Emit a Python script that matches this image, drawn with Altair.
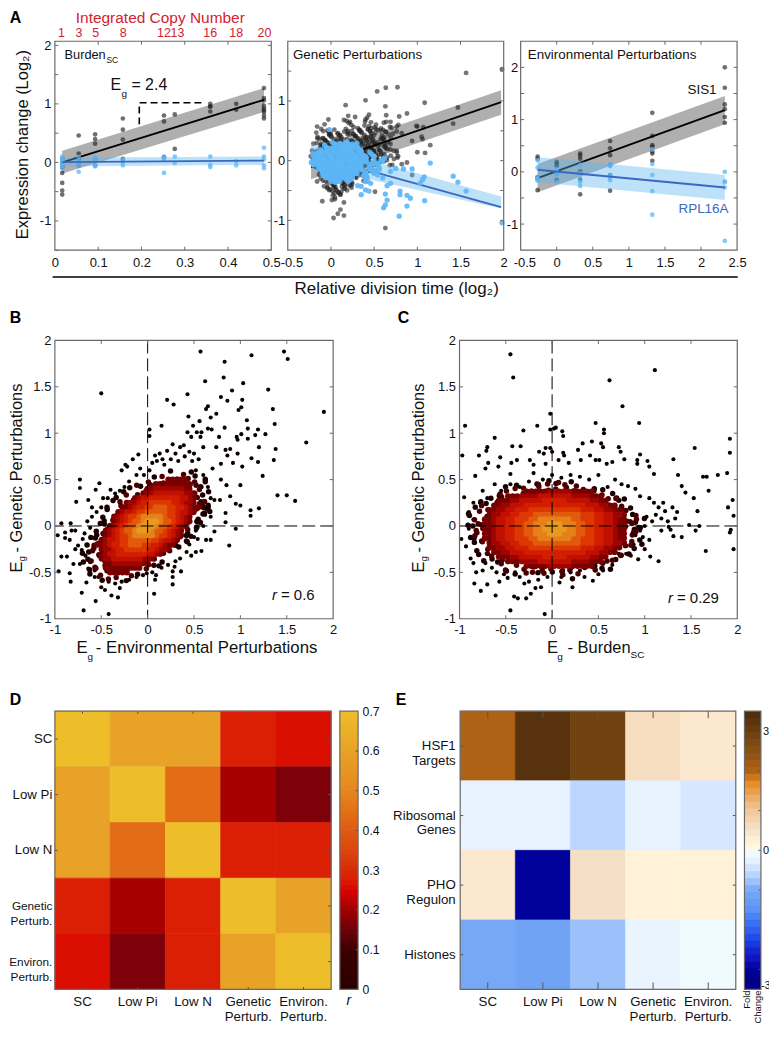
import altair as alt
import pandas as pd

FONT = "Liberation Sans"
FRAME = "#6a6a6a"
RED = "#d2222d"
BLUE_LINE = "#3a68c0"
BLUE_PT = "#5cb6f6"
BLUE_BAND = "#58b4ee"
BLACK_PT = "#222222"
GRAY_BAND = "#6e6e6e"

# ---------- Panel A, Burden ----------
A1_BLACK_X = [.017]*7 + [.055]*4 + [.093]*5 + [.157]*4 + [.252]*3 + [.277]*2 + [.359]*4 + [.419]*2 + [.483]*9
A1_BLACK_Y = [-.01,-.18,-.35,-.48,-.55,.06,-.08, .46,.15,.06,-.05, .48,.4,.32,.06,-.05, .75,.56,.39,.06,
              .80,.70,.09, .82,.23, 1.0,.96,.95,.87, 1.0,.90, 1.27,1.10,1.06,.97,.92,.89,.86,.80,.75]
A1_BLUE_X = [.017]*6 + [.055]*4 + [.093]*4 + [.157]*3 + [.252]*3 + [.277]*2 + [.359]*3 + [.419]*2 + [.483]*5
A1_BLUE_Y = [.1,.06,.03,-.02,-.06,-.11, .09,.02,-.05,-.16, .1,.06,-.05,-.07, .05,.0,-.05,
             .1,.06,-.18, .1,-.01, .1,-.04,-.08, .02,-.05, .25,.1,.05,-.05,-.1]
A1_COPY_X = [.0155,.0554,.0946,.158,.252,.283,.359,.419,.484]
A1_COPY_LABELS = ["1","3","5","8","12","13","16","18","20"]
A1_FIT_X = [.017,.483]
A1_BLACK_FIT = [.0,1.07]
A1_BLACK_LO = [-.19,.86]
A1_BLACK_HI = [.2,1.27]
A1_BLUE_FIT = [.005,.03]
A1_BLUE_LO = [-.07,-.04]
A1_BLUE_HI = [.08,.1]
A1_BRACKET_X = [.195,.195,.346]
A1_BRACKET_Y = [.65,1.02,1.02]

# ---------- Panel A, Genetic ----------
A2_BLACK_OUT = [(1.98,1.53),(1.565,1.47),(.635,1.22),(.77,1.23),(.535,1.16),(.40,1.01),(.17,.93),(.63,.91),(1.085,.97),
 (1.47,.89),(1.415,.62),(.88,.79),(.79,.74),(1.15,.26),(-.03,.69),(-.16,.57),(-.17,.47),(.2,.75),(.28,.73),(.15,.68),
 (.22,.65),(.44,.77),(.42,.72),(.40,.69),(.64,.76),(.64,.65),(.69,.65),(.58,.54),(.52,.53),(.76,.57),(.76,.49),(.82,.46),
 (.99,.58),(1.0,.57),(1.07,.56),(.94,.33),(1.05,.4),(1.06,.36),(1.0,.14),(1.09,.13),(.77,.05),(.65,.05),(.88,-.03),
 (.82,-.06),(.94,-.24),(.71,-.07),(.51,-.52),(.63,-1.13),(-.1,-.68),(.03,-.96),(.08,-.89),(.11,-.82),(.15,-.92),(.15,-.7),
 (.01,-.66),(-.08,-.43),(-.16,-.35),(.12,-.52),(.23,-.41)]
A2_BLUE_OUT = [(1.98,-1.04),(1.565,-.51),(1.415,-.26),(1.47,-.36),(1.15,-.04),(1.085,-.67),(1.08,-.27),(1.06,-.32),(1.03,-.38),
 (.94,-.14),(.84,-.14),(.75,-.13),(.69,-.18),(.79,-.93),(.88,-.76),(.63,-.74),(.61,-.79),(.65,-.66),(.63,-.56),(.8,-.51),
 (.8,-.57),(.88,-.58),(.92,-.63),(.69,-.38),(.65,-.42),(.35,-.57),(.4,-.49),(.44,-.51),(.35,-.43),(.31,-.42),(-.02,.52),
 (.62,.04),(.56,-.13),(.5,-.18),(.46,-.07),(.54,-.24),(.6,-.29),(.42,-.29),(.46,-.38)]
# occupied cells of the dense clouds, read row by row
A2_BLACK_ROWS = {
 .63:"........#...#.#....#", .56:"...#.....##.###.#.#.", .49:"..#.##.#.###.##.#.#.", .42:"..#####.#######.#.#.",
 .35:".##################.", .28:".#################..", .21:"##################.#", .14:"#################.##",
 .07:"################.#.#", .0:"###############.#.#.", -.07:"##############..##..", -.14:".############.#.....",
 -.21:".###########.#......", -.28:"..#########.........", -.35:"...#######.#........", -.42:"...######...........",
 -.49:"....####............", -.56:"....###.............", -.63:".....#.............."}
A2_BLACK_ROWS2 = {
 .595:"........#..#.#..#...", .525:"..#.#.#.###.##.#.#..", .455:"..####.#######.#.#..", .385:".################...",
 .315:"################.#..", .245:"#################...", .175:"#################.#.", .105:"################.#..",
 .035:"###############.#...", -.035:"##############.#....", -.105:".############.#.....", -.175:".###########.#......",
 -.245:"..#########.........", -.315:"..########..........", -.385:"...#######..........", -.455:"...######...........",
 -.525:"....####............", -.595:"....##.............."}
A2_BLUE_ROWS = {
 .28:".....#####.........", .21:"...########........", .14:".###########.......", .07:"#############.#....",
 .0:"#############.#.#..", -.07:"############.#.#...", -.14:".###########.#.#...", -.21:"..#########.#.#....",
 -.28:"...#######..#......", -.35:"....###.#...#......"}
A2_BLUE_ROWS2 = {
 .245:"....#######........", .175:"..##########.......", .105:"############.#.....", .035:"#############.#....",
 -.035:"############.#.....", -.105:"###########.#......", -.175:".#########.#.......", -.245:"..#######..#.......",
 -.315:"...#####..........."}
# small offsets that break the reading grid of the dense clouds
SCATTER_DX = [.012,-.028,.031,-.009,.022,-.033,.005,.027,-.018,.036,-.024,.014,-.005,.029,-.037,.018,-.013]
SCATTER_DY = [-.03,.018,.042,-.012,-.045,.027,.006,-.036,.033,-.021,.048,-.006,.024,-.039,.012,-.027,.039,-.018,.003]
A2_FIT_X = [-.23,1.97]
A2_BLACK_FIT = [-.11,.98]
A2_BLACK_LO = [-.31,.77]
A2_BLACK_HI = [.09,1.18]
A2_BLUE_FIT = [.1,-.78]
A2_BLUE_LO = [-.1,-.8]
A2_BLUE_HI = [.28,-.6]

# ---------- Panel A, Environmental ----------
A3_BLACK_X = [-.265]*5 + [0]*5 + [.325]*6 + [.74]*6 + [1.325]*7 + [2.33]*6
A3_BLACK_Y = [.29,.25,-.1,-.13,-.35, .19,.16,.11,-.03,-.16, .35,.31,.25,.01,-.15,-.43, .59,.45,.32,.13,-.06,-.36,
              1.13,.69,.51,.48,.39,.35,.21, 2.0,1.61,1.29,1.2,1.05,.94]
A3_BLUE_X = [-.265]*5 + [0]*4 + [.325]*5 + [.74]*5 + [1.325]*5 + [2.33]*5
A3_BLUE_Y = [.22,.08,-.1,-.14,-.17, .05,0,-.05,-.19, .13,-.03,-.06,-.19,-.27, .15,.11,-.06,-.11,-.16,
             .43,.15,-.06,-.37,-.82, 0,-.18,-.2,-.3,-1.32]
A3_FIT_X = [-.265,2.33]
A3_BLACK_FIT = [-.12,1.18]
A3_BLACK_LO = [-.39,.91]
A3_BLACK_HI = [.15,1.45]
A3_BLUE_FIT = [.04,-.3]
A3_BLUE_LO = [-.2,-.54]
A3_BLUE_HI = [.28,-.06]

# ---------- Panels B and C ----------
DENSITY_COLORS = ["#1c0000","#4a0000","#7a0000","#a00400","#c21000","#d21e00","#dc3800","#e25a0c","#e6801a","#e89a20"]
B_OUT = [(.57,1.88),(1.12,1.84),(1.47,1.88),(1.51,1.80),(.83,1.77),(.82,1.60),(.62,1.56),(1.03,1.54),(-.50,1.43),(.43,1.42),
 (.21,1.36),(.28,1.31),(.91,1.46),(1.30,1.47),(.79,1.39),(.86,1.35),(1.02,1.36),(.98,1.25),(1.01,1.28),(1.35,1.26),(1.90,1.23),
 (.65,1.29),(.63,1.26),(.74,1.21),(.68,1.17),(.44,1.18),(.56,1.13),(1.07,1.14),(1.37,1.10),(.15,1.08),(.49,1.08),(.02,1.04),
 (.02,.97),(.83,1.06),(1.08,1.05),(1.19,1.04),(.65,1.05),(.69,1.04),(.43,1.01),(.53,1.01),(.58,1.01),(1.01,.99),(1.27,.99),
 (1.16,.98),(.47,.96),(.57,.96),(.77,.96),(.96,.96),(.97,.93),(1.08,.94),(1.71,.9),(1.2,.85),(1.38,.83),(.84,.82),(.89,.83),
 (.74,.85),(.6,.85),(.97,.78),(.86,.76),(1.12,.73),(1.36,.71),(1.19,.69),(.92,.68),(1.02,.64),(.79,.67),(.70,.62),(1.24,.54),
 (.79,.5),(1.0,.44),(.85,.44),(1.40,.33),(1.5,.33),(1.59,.27),(1.2,.19),(1.11,.17),(1.11,.11),(.95,.24),(1.0,.22),(.89,.32),
 (.84,.14),(.95,-.03),(.88,-.21),(.84,.04),(.72,-.06),(.68,-.15),(.63,-.15),(.54,-.14),(.58,-.27),(.52,-.28),(.47,-.32),
 (.36,-.49),(.29,-.44),(.27,-.49),(.27,-.55),(.27,-.63),(.09,-.53),(.08,-.58),(.07,-.73),(-.01,-.51),(-.32,-.77),(-.39,-.75),
 (-.42,-.95),(-.56,-.81),(-.69,-.91),(-.71,-.72),(-.66,-.61),(-.83,-.60),(-.96,-.49),(-.84,-.51),(-.93,-.33),(-.87,-.33),
 (-.97,-.1),(-.93,.03),(-.83,.03),(-.89,-.07),(-.89,-.13),(-.84,-.15),(-.82,-.05),(-.78,-.05),(-.73,.5),(-.73,.41),(-.77,.26),
 (-.64,.28),(-.52,.46),(-.56,.39),(-.40,.39),(-.28,.6),(-.24,.66),(-.22,.64),(-.16,.72),(-.1,.77),(.08,.76),(.13,.78),(.21,.81),
 (.27,.88),(.35,.85),(.39,.87),(-.75,-.21),(-.71,-.26),(-.67,-.32),(-.62,-.39),(-.57,-.48),(-.53,-.55),(-.5,-.66),(-.46,-.69),
 (-.8,-.41),(-.73,-.41),(-.64,-.46),(-.57,-.55),(-.78,-.25),(-.7,-.14),(-.68,-.08),(-.62,-.02),(-.65,.05),(-.6,.1),(-.55,.15),
 (-.6,.2),(-.5,.2),(-.48,.3),(-.43,.3),(-.35,.35),(-.3,.38),(-.25,.42),(-.2,.48),(-.12,.55),(-.08,.62),(-.04,.55),(.02,.6),
 (.05,.68),(.1,.7),(.16,.72),(.18,.66),(.25,.72),(.3,.78),(.33,.7),(.4,.75),(.45,.8),(.5,.78),(.48,.7),(.55,.72),(.52,.6),
 (.6,.55),(.62,.5),(.58,.42),(.65,.42),(.68,.3),(.72,.28),(.78,.28),(.66,.2),(.6,.22),(.62,.12),(.68,.1),(.55,.05),(.6,.0),
 (.52,-.05),(.5,-.12),(.45,-.2),(.42,-.28),(.35,-.35),(.3,-.38),(.22,-.42),(.15,-.45),(.05,-.5),(-.05,-.53),(-.12,-.55),
 (-.2,-.58),(-.28,-.6),(-.35,-.62),(-.42,-.6),(-.3,-.67),(-.38,-.5)]
B_ROWS = {
  .55:".....................0.1.1.0.....",
  .50:".................0.1122222110.0..",
  .45:"..............0.112222222221.0...",
  .40:"............0.1122333333322110...",
  .35:"...........0.1123344444443321.0..",
  .30:".........0.11234455555554432110..",
  .25:"........0.123345566666554332100..",
  .20:".......0.12234556677766554322100.",
  .15:"......0.12344566777776654432100..",
  .10:".....0.12345667888887665432.00...",
  .05:".....0012345677899987765432.0....",
  .00:"....0.12345677899987765432100....",
 -.05:"...0.12345677899987765432100.....",
 -.10:"...0012345667888887665432.0......",
 -.15:"..0.12344566777776654432100......",
 -.20:".0.12234556677766554322.00.......",
 -.25:"..0.123345566666554332.0.........",
 -.30:".0.112344555555544321.0..........",
 -.35:".0.1123344444443321.0............",
 -.40:"..0.11223333333221.0.............",
 -.45:"..0.112222222221.0...............",
 -.50:"...0.11222221.0..................",
 -.55:".....0.1.1.0.....................",
}
C_OUT = [(-.45,1.85),(-.42,1.6),(1.11,1.68),(.62,1.57),(.76,1.29),(-.02,1.21),(.94,1.11),(.47,1.11),(.56,1.04),(.56,1.0),(-.94,1.08),
 (-.31,1.03),(-.16,1.08),(-.02,1.04),(.02,1.05),(.04,1.06),(.11,1.02),(.12,.97),(-.62,.95),(1.92,.94),(-.43,.86),(-.34,.86),(1.54,.84),
 (-.97,.76),(-.79,.76),(-.7,.85),(-.71,.81),(-.56,.74),(1.92,.79),(-.07,.84),(-.02,.84),(0,.8),(-.14,.8),(-.09,.78),(.12,.79),(.13,.76),
 (.43,.91),(.33,.89),(.28,.82),(.53,.89),(.55,.85),(.72,.85),(.74,.8),(.95,.77),(.41,.76),(.31,.71),(.47,.71),(.51,.71),(.59,.67),
 (.65,.69),(.92,.71),(.92,.67),(.78,.72),(1.03,.7),(1.31,.72),(1.05,.64),(-.69,.68),(-.72,.62),(-.58,.64),(-.44,.68),(-.38,.71),(-.24,.71),
 (-.2,.66),(-.07,.67),(.07,.71),(.18,.68),(-.83,.54),(-.45,.56),(-.2,.57),(1.1,.56),(1.36,.55),(1.67,.53),(1.63,.53),(1.79,.55),(1.89,.57),
 (1.69,.38),(1.95,.28),(1.9,.2),(1.53,.3),(1.57,.16),(1.44,.36),(1.4,.43),(1.96,.11),(1.48,.01),(1.59,0),(1.55,-.05),(1.93,-.04),(1.92,-.07),
 (1.96,-.25),(1.66,-.27),(1.4,-.12),(1.31,-.11),(1.26,-.01),(1.15,-.38),(1.06,-.33),(.93,-.36),(.08,-.61),(.22,-.66),(-.45,-.91),(-.08,-.95),
 (-.23,-.73),(-.28,-.78),(-.37,-.78),(-.41,-.76),(-.61,-.75),(-.77,-.7),(-.84,-.62),(-.7,-.63),(-.57,-.6),(-.18,-.67),(-.12,-.66),(-.3,-.62),
 (.35,-.55),(.44,-.59),(-.98,-.14),(-.95,.31),(-.9,-.03),(-.85,.07),(-.93,-.22),(-.88,-.35),(-.85,-.4),(-.82,-.5),(-.75,-.48),(-.72,-.4),
 (-.65,-.45),(-.6,-.5),(-.52,-.52),(-.48,-.56),(-.4,-.5),(-.35,-.55),(-.25,-.6),(-.15,-.58),(-.05,-.55),(.1,-.55),(.2,-.5),(.3,-.48),(.45,-.45),
 (.5,-.52),(.55,-.48),(.65,-.42),(.72,-.3),(.8,-.3),(.88,-.2),(.9,-.1),(.95,-.05),(1.0,.0),(1.02,.1),(1.08,.05),(1.12,.12),(1.15,.2),(1.18,.08),
 (1.22,.16),(1.25,.05),(1.1,.25),(1.05,.3),(.95,.32),(.9,.4),(.82,.43),(.75,.45),(.68,.5),(.6,.42),(.5,.55),(.4,.5),(.3,.53),(.2,.55),(.1,.52),
 (0,.55),(-.1,.5),(-.25,.48),(-.35,.42),(-.45,.45),(-.55,.38),(-.62,.45),(-.7,.3),(-.78,.25),(-.85,.25),(-.9,.15),(-.75,.38),(1.2,.25),(1.3,.2),
 (1.35,.15),(1.28,-.04),(1.33,.08),(1.18,-.05),(1.05,-.15),(1.0,-.25),(.98,-.12),(.85,-.32)]
C_ROWS = {
  .47:".................0..0.0..0...............",
  .42:"...........0.0.1111111111111.0.0.........",
  .37:".........0.1.1122222333332222211.0.......",
  .32:".......0.112223333444444433332221.0.0....",
  .27:"......0.1222334444455555444443322110....",
  .22:".....0.12233444555555555555544433221.0..",
  .17:"....0.1223344555666666666665554433221.0.",
  .12:"...0.1123344556667777777777666554433211.0",
  .07:"...0.12234455666778888888776665544322110.",
  .02:"...0112234455667788899988877665544322110.",
 -.03:"...0112234455667788999998877665544322110.",
 -.08:"...0.12234455667788899988877665544322.10.",
 -.13:"...0112234455666778888888776665544322.10.",
 -.18:"...0.1123344556667777777777666554433211.0",
 -.23:"....0.1223344555666666666665554433221.0.",
 -.28:".....0.12233444555555555555544433221.0..",
 -.33:"......0.1222334444455555444443322.10....",
 -.38:".......0.112223333444444433332221.0.....",
 -.43:".........0.1.1122222333332222211.0.......",
 -.48:"...........0.0.1111111111111.0.0.........",
 -.53:".................0..0.0..0...............",
}

# ---------- Panels D and E ----------
D_NAMES = ["SC","Low Pi","Low N","Genetic|Perturb.","Environ.|Perturb."]
D_VALUES = [[.70,.60,.60,.28,.26],
            [.60,.70,.44,.205,.166],
            [.60,.44,.70,.28,.28],
            [.28,.205,.28,.70,.60],
            [.26,.166,.28,.60,.70]]
D_STOPS = [0,.1,.2,.25,.3,.4,.5,.6,.7]
D_COLORS = ["#000000","#3c0000","#a00000","#dc0000","#d92a0a","#df5a14","#e5871f","#e8a227","#edbe2a"]
E_ROWS = ["HSF1|Targets","Ribosomal|Genes","PHO|Regulon","Histones"]
E_COLS = D_NAMES
E_VALUES = [[2.0,3.3,2.9,.6,.4],
            [-.25,-.25,-.6,-.25,-.4],
            [.4,-3.0,.55,.2,.2],
            [-1.05,-1.15,-.8,-.22,-.1]]
E_STOPS = [-3.5,-3,-2.5,-2,-1.5,-1,-.6,-.3,0,.5,1,1.2,1.7,2,3,3.5]
E_COLORS = ["#000080","#00009a","#1525d8","#3060f0","#5b93f5","#7aaaf5","#bbd6ff","#e4efff","#ffffff","#f7e3ca","#f0c79a",
            "#edb87c","#e88a20","#ae6216","#6a3f10","#4a2a08"]
D_BAR_LEVELS = [i*.7/56 for i in range(56)]
E_BAR_LEVELS = [-3.5+i*7/40 for i in range(40)]

ONE = pd.DataFrame({"a":[1]})
MINUS_FIX = "replace(format(datum.value,'~g'),'\u2212','-')"


def text_at(origin, px, py, s, size=13, color="#111111", align="left", **kw):
    return alt.Chart(ONE).mark_text(text=s, fontSize=size, color=color, align=align, baseline="middle", font=FONT, **kw).encode(
        x=alt.value(px-origin[0]), y=alt.value(py-origin[1]))


def q_frame(w, h, xdom, ydom, xticks, yticks, xlabels, ylabels, tick=3.5, ypad=3, xpad=6):
    sx = alt.Scale(domain=xdom, nice=False, zero=False)
    sy = alt.Scale(domain=ydom, nice=False, zero=False)
    ax = alt.Axis(values=xlabels, title=None, tickSize=0, domain=False, grid=False, labelFontSize=13, labelFont=FONT, labelColor="#111111",
                  labelPadding=xpad, labelExpr=MINUS_FIX, labelOverlap=False, labelFlush=False, labelBound=False)
    ay = alt.Axis(values=ylabels, title=None, tickSize=0, domain=False, grid=False, labelFontSize=13, labelFont=FONT, labelColor="#111111",
                  labelPadding=ypad, labelExpr=MINUS_FIX, labelOverlap=False, labelFlush=False, labelBound=False)
    X = lambda f: alt.X(f, type="quantitative", scale=sx, axis=ax)
    Y = lambda f: alt.Y(f, type="quantitative", scale=sy, axis=ay)
    dfx = pd.DataFrame({"v":xticks})
    dfy = pd.DataFrame({"v":yticks})
    rule = dict(color=FRAME, strokeWidth=1)
    ticks = [
        alt.Chart(dfx).mark_rule(**rule).encode(x=X("v"), y=alt.value(h), y2=alt.value(h-tick)),
        alt.Chart(dfx).mark_rule(**rule).encode(x=X("v"), y=alt.value(0), y2=alt.value(tick)),
        alt.Chart(dfy).mark_rule(**rule).encode(y=Y("v"), x=alt.value(0), x2=alt.value(tick)),
        alt.Chart(dfy).mark_rule(**rule).encode(y=Y("v"), x=alt.value(w), x2=alt.value(w-tick)),
        alt.Chart(ONE).mark_rect(fillOpacity=0, stroke=FRAME, strokeWidth=1.2).encode(
            x=alt.value(0), x2=alt.value(w), y=alt.value(0), y2=alt.value(h)),
    ]
    return X, Y, ticks


def fit_layers(X, Y, xs, fit, lo, hi, band, band_op, line, pts_df, pt_color, pt_op, size=22, points_last=False):
    df = pd.DataFrame({"x":xs,"fit":fit,"lo":lo,"hi":hi})
    b = alt.Chart(df).mark_area(color=band, opacity=band_op).encode(x=X("x"), y=Y("lo"), y2=alt.Y2("hi"))
    p = alt.Chart(pts_df).mark_circle(color=pt_color, opacity=pt_op, size=size).encode(x=X("x"), y=Y("y"))
    l = alt.Chart(df).mark_line(color=line, strokeWidth=1.8).encode(x=X("x"), y=Y("fit"))
    return [b, l, p] if points_last else [b, p, l]


def rows_to_points(rows, x0, dx, loose=""):
    out = []
    for r, (y, s) in enumerate(rows.items()):
        for i, c in enumerate(s):
            if c == ".":
                continue
            k = r*7+i
            jx = SCATTER_DX[k % len(SCATTER_DX)] if c in loose else 0
            jy = SCATTER_DY[k % len(SCATTER_DY)] if c in loose else 0
            out.append({"x":x0+i*dx+jx,"y":y+jy,"lv":c})
    return pd.DataFrame(out)


# ---------- A1 ----------
O1 = (53.3,39.3)
h_x = [.1,.2,.3,.4]
X, Y, tk = q_frame(217,209.5,[0,.5],[-1.5,2.07],h_x,[-1.5,-1,-.5,0,.5,1,1.5,2],[0,.1,.2,.3,.4,.5],[-1,0,1,2],ypad=4)
a1_black = pd.DataFrame({"x":A1_BLACK_X,"y":A1_BLACK_Y})
a1_blue = pd.DataFrame({"x":A1_BLUE_X,"y":A1_BLUE_Y})
a1_layers = fit_layers(X,Y,A1_FIT_X,A1_BLACK_FIT,A1_BLACK_LO,A1_BLACK_HI,GRAY_BAND,.55,"#000000",a1_black,BLACK_PT,.65)
a1_layers += fit_layers(X,Y,A1_FIT_X,A1_BLUE_FIT,A1_BLUE_LO,A1_BLUE_HI,BLUE_BAND,.4,BLUE_LINE,a1_blue,BLUE_PT,.75)
a1_layers += [
    alt.Chart(pd.DataFrame({"x":A1_BRACKET_X,"y":A1_BRACKET_Y,"o":[0,1,2]})).mark_line(color="#000000",strokeWidth=1.6,strokeDash=[7,4]).encode(
        x=X("x"), y=Y("y"), order="o:Q"),
    alt.Chart(pd.DataFrame({"x":A1_COPY_X,"t":A1_COPY_LABELS})).mark_text(fontSize=12.5,color=RED,font=FONT,baseline="middle").encode(
        x=X("x"), y=alt.value(31.5-O1[1]), text="t:N"),
]
a1_layers += tk
a1_layers += [
    text_at(O1,159,16,"Integrated Copy Number",15.5,RED,"center"),
    text_at(O1,8,16,"A",16,"#000000",fontWeight="bold"),
    text_at(O1,63,53.5,"Burden",12.8),
    text_at(O1,105,58,"SC",8.5),
    text_at(O1,109,83,"E",16),
    text_at(O1,120,92,"g",10),
    text_at(O1,130,83,"= 2.4",16),
    text_at(O1,21,143,"Expression change (Log\u2082)",16.5,"#111111","center",angle=270),
    alt.Chart(ONE).mark_rule(opacity=0).encode(x=alt.value(-45.3),x2=alt.value(-44),y=alt.value(-31.3),y2=alt.value(-30)),
]
A1 = alt.layer(*a1_layers).properties(width=217,height=209.5)

# ---------- A2 ----------
O2 = (286.8,39.3)
X, Y, tk = q_frame(216.5,209.5,[-.5,2],[-1.5,2],[0,.5,1,1.5],[-1,-.5,0,.5,1,1.5],[0,.5,1,1.5,2],[-1,0,1])
black_cloud = pd.concat([rows_to_points(A2_BLACK_ROWS,-.2,.05,"#"),rows_to_points(A2_BLACK_ROWS2,-.175,.05,"#")])[["x","y"]]
blue_cloud = pd.concat([rows_to_points(A2_BLUE_ROWS,-.2,.05),rows_to_points(A2_BLUE_ROWS,-.2,.05,"#"),rows_to_points(A2_BLUE_ROWS2,-.175,.05,"#")])[["x","y"]]
a2_black = pd.concat([pd.DataFrame(A2_BLACK_OUT,columns=["x","y"]),black_cloud])
a2_blue = pd.concat([pd.DataFrame(A2_BLUE_OUT,columns=["x","y"]),blue_cloud])
a2_layers = fit_layers(X,Y,A2_FIT_X,A2_BLACK_FIT,A2_BLACK_LO,A2_BLACK_HI,GRAY_BAND,.55,"#000000",a2_black,BLACK_PT,.62,size=24)
a2_layers += fit_layers(X,Y,A2_FIT_X,A2_BLUE_FIT,A2_BLUE_LO,A2_BLUE_HI,BLUE_BAND,.4,BLUE_LINE,a2_blue,BLUE_PT,.9,size=28,points_last=True)
a2_layers += tk
a2_layers += [
    text_at(O2,292,53,"Genetic Perturbations",13.4),
    text_at(O2,291,262,"-0.5",13,"#111111","center"),
    alt.Chart(ONE).mark_rule(color="#000000",strokeWidth=1.6).encode(
        x=alt.value(51-O2[0]),x2=alt.value(738-O2[0]),y=alt.value(275.7-O2[1])),
    text_at(O2,396,288,"Relative division time (log\u2082)",17,"#111111","center"),
]
A2 = alt.layer(*a2_layers).properties(width=216.5,height=209.5)

# ---------- A3 ----------
O3 = (519.8,39.3)
X, Y, tk = q_frame(217,209.5,[-.5,2.5],[-1.5,2.5],[0,.5,1,1.5,2],[-1,-.5,0,.5,1,1.5,2],[0,.5,1,1.5,2,2.5],[-1,0,1,2])
a3_black = pd.DataFrame({"x":A3_BLACK_X,"y":A3_BLACK_Y})
a3_blue = pd.DataFrame({"x":A3_BLUE_X,"y":A3_BLUE_Y})
a3_layers = fit_layers(X,Y,A3_FIT_X,A3_BLACK_FIT,A3_BLACK_LO,A3_BLACK_HI,GRAY_BAND,.55,"#000000",a3_black,BLACK_PT,.65)
a3_layers += fit_layers(X,Y,A3_FIT_X,A3_BLUE_FIT,A3_BLUE_LO,A3_BLUE_HI,BLUE_BAND,.4,BLUE_LINE,a3_blue,BLUE_PT,.75)
a3_layers += tk
a3_layers += [
    text_at(O3,527,53,"Environmental Perturbations",13.4),
    text_at(O3,524,262,"-0.5",13,"#111111","center"),
    text_at(O3,687,88.5,"SIS1",13.5),
    text_at(O3,678,208,"RPL16A",13.5,BLUE_LINE),
]
A3 = alt.layer(*a3_layers).properties(width=217,height=209.5)

# ---------- B ----------
def density_panel(origin, w, rows, x0, dx, out, crosshair_extra):
    X, Y, tk = q_frame(w,279,[-1,2],[-1,2],[-.5,0,.5,1,1.5],[-.5,0,.5,1,1.5],[-1,-.5,0,.5,1,1.5,2],[-1,-.5,0,.5,1,1.5,2],ypad=4,xpad=5)
    cells = rows_to_points(rows,x0,dx,"01").sort_values("lv",kind="stable")
    low = cells[cells["lv"].isin(list("01"))]
    high = cells[~cells["lv"].isin(list("01"))]
    color = alt.Color("lv:N",scale=alt.Scale(domain=list("0123456789"),range=DENSITY_COLORS),legend=None)
    ls = [
        alt.Chart(pd.DataFrame(out,columns=["x","y"])).mark_circle(color="#0a0000",opacity=1,size=17).encode(x=X("x"),y=Y("y")),
        alt.Chart(low).mark_circle(opacity=1,size=30).encode(x=X("x"),y=Y("y"),color=color),
        alt.Chart(high).mark_circle(opacity=1,size=40).encode(x=X("x"),y=Y("y"),color=color,order=alt.Order("lv:N")),
        alt.Chart(pd.DataFrame({"v":[0]})).mark_rule(color="#000000",strokeWidth=1,strokeDash=[13,5]).encode(x=X("v")),
        alt.Chart(pd.DataFrame({"v":[0]})).mark_rule(color="#000000",strokeWidth=1,strokeDash=[13,5]).encode(y=Y("v")),
    ]
    return ls + tk + crosshair_extra

OB = (53.3,339.3)
b_text = [
    text_at(OB,8,317,"B",16,"#000000",fontWeight="bold"),
    text_at(OB,15,572,"E",16.5,angle=270),
    text_at(OB,20,561,"g",10,angle=270),
    text_at(OB,15,552,"- Genetic Perturbations",16.5,angle=270),
    text_at(OB,75,648,"E",16.8),
    text_at(OB,86,657,"g",10),
    text_at(OB,94.3,648,"- Environmental Perturbations",16.8),
    text_at(OB,271,595,"r",15,fontStyle="italic"),
    text_at(OB,280,595,"= 0.6",15),
]
B = alt.layer(*density_panel(OB,279,B_ROWS,-.72,.045,B_OUT,b_text)).properties(width=279,height=279)

OC = (459,339.3)
c_text = [
    text_at(OC,397,317,"C",16,"#000000",fontWeight="bold"),
    text_at(OC,418,572,"E",16.5,angle=270),
    text_at(OC,423,561,"g",10,angle=270),
    text_at(OC,418,552,"- Genetic Perturbations",16.5,angle=270),
    text_at(OC,546.7,648,"E",16.8),
    text_at(OC,557,657,"g",10),
    text_at(OC,567.3,648,"- Burden",16.5),
    text_at(OC,630.5,655,"SC",10),
    text_at(OC,668,598,"r",15,fontStyle="italic"),
    text_at(OC,677,598,"= 0.29",15),
]
C = alt.layer(*density_panel(OC,278.5,C_ROWS,-1.025,.05,C_OUT,c_text)).properties(width=278.5,height=279)

# ---------- heat maps ----------
def heat(origin, w, h, rows, cols, values, stops, colors, xt, yt, ypad, ylabel_size, extra):
    df = pd.DataFrame([{"r":r,"c":c,"v":values[i][j]} for i,r in enumerate(rows) for j,c in enumerate(cols)])
    base = dict(title=None, tickSize=0, domain=False, grid=False, labelFont=FONT, labelColor="#111111", labelLineHeight=15,
                labelExpr="split(datum.label,'|')", labelOverlap=False, labelFlush=False, labelBound=False)
    X = alt.X("c:N",sort=cols,scale=alt.Scale(domain=cols,paddingInner=0,paddingOuter=0),
              axis=alt.Axis(labelAngle=0,labelPadding=5,labelFontSize=13.3,labelBaseline="top",**base))
    Y = alt.Y("r:N",sort=rows,scale=alt.Scale(domain=rows,paddingInner=0,paddingOuter=0),
              axis=alt.Axis(labelPadding=ypad,labelFontSize=ylabel_size,**base))
    sc = alt.Scale(domain=stops,range=colors)
    rule = dict(color="#555555",strokeWidth=1)
    dfc = pd.DataFrame({"c":cols})
    dfr = pd.DataFrame({"r":rows})
    return alt.layer(
        alt.Chart(df).mark_rect(strokeWidth=.6).encode(x=X,y=Y,color=alt.Color("v:Q",scale=sc,legend=None),
                                                        stroke=alt.Stroke("v:Q",scale=sc,legend=None)),
        alt.Chart(dfc).mark_rule(**rule).encode(x=X,y=alt.value(h),y2=alt.value(h-xt)),
        alt.Chart(dfc).mark_rule(**rule).encode(x=X,y=alt.value(0),y2=alt.value(xt)),
        alt.Chart(dfr).mark_rule(**rule).encode(y=Y,x=alt.value(0),x2=alt.value(yt)),
        alt.Chart(dfr).mark_rule(**rule).encode(y=Y,x=alt.value(w),x2=alt.value(w-yt)),
        alt.Chart(ONE).mark_rect(fillOpacity=0,stroke=FRAME,strokeWidth=1.2).encode(
            x=alt.value(0),x2=alt.value(w),y=alt.value(0),y2=alt.value(h)),
        *extra
    ).properties(width=w,height=h)


def colorbar(w, h, levels, step, dom, stops, colors, tickvals, labelvals, fs, lpad, extra):
    df = pd.DataFrame({"lo":levels,"hi":[min(l+step*1.2,dom[1]) for l in levels],"v":[l+step/2 for l in levels]})
    sy = alt.Scale(domain=dom,nice=False,zero=False)
    ay = alt.Axis(orient="right",values=labelvals,title=None,tickSize=0,domain=False,grid=False,labelFont=FONT,labelFontSize=fs,
                  labelColor="#111111",labelPadding=lpad,labelExpr=MINUS_FIX,labelOverlap=False,labelFlush=False,labelBound=False)
    Y = lambda f: alt.Y(f,type="quantitative",scale=sy,axis=ay)
    col = alt.Color("v:Q",scale=alt.Scale(domain=stops,range=colors),legend=None)
    dft = pd.DataFrame({"t":tickvals})
    return alt.layer(
        alt.Chart(df).mark_rect().encode(x=alt.value(0),x2=alt.value(w),y=Y("lo"),y2=alt.Y2("hi"),color=col),
        alt.Chart(dft).mark_rule(color="#555555",strokeWidth=1).encode(y=Y("t"),x=alt.value(w),x2=alt.value(w-2.5)),
        alt.Chart(ONE).mark_rect(fillOpacity=0,stroke=FRAME,strokeWidth=1.2).encode(
            x=alt.value(0),x2=alt.value(w),y=alt.value(0),y2=alt.value(h)),
        *extra
    ).properties(width=w,height=h)


OD = (53.3,711)
D_LABEL_SIZE = {"condition":{"test":"indexof(datum.value,'Perturb')>=0","value":11.8},"value":13.3}
D = heat(OD,277,279,D_NAMES,D_NAMES,D_VALUES,D_STOPS,D_COLORS,2.5,3,3,D_LABEL_SIZE,[text_at(OD,8,700,"D",16,"#000000",fontWeight="bold")])
ODB = (339,711)
D_BAR = colorbar(18.3,279,D_BAR_LEVELS,.7/56,[0,.7],D_STOPS,D_COLORS,[.1,.2,.3,.4,.5,.6],[0,.1,.2,.3,.4,.5,.6,.7],12.3,4,
                 [text_at(ODB,348,1002,"r",14,"#111111","center",fontStyle="italic")])
OE = (459.7,711)
E = heat(OE,276.3,279,E_ROWS,E_COLS,E_VALUES,E_STOPS,E_COLORS,7,3,5,13.3,[text_at(OE,395,700,"E",16,"#000000",fontWeight="bold")])
OEB = (744,711)
E_BAR = colorbar(16.5,279,E_BAR_LEVELS,7/40,[-3.5,3.5],E_STOPS,E_COLORS,[-3,-2,-1,0,1,2,3],[0,3],11,1.5,
                 [text_at(OEB,760.8,987,"-3",10.3),
                  text_at(OEB,747,991,"Fold",9.5,"#111111","right",angle=270),
                  text_at(OEB,758,991,"Change",9.5,"#111111","right",angle=270)])

IND = dict(color="independent", stroke="independent")
row1 = alt.hconcat(A1,A2,A3,spacing=16.5,bounds="flush")
row2 = alt.hconcat(B,C,spacing=126.7,bounds="flush").resolve_scale(**IND)
row3 = alt.hconcat(
    alt.hconcat(D,D_BAR,spacing=8.7,bounds="flush").resolve_scale(**IND),
    alt.hconcat(E,E_BAR,spacing=8,bounds="flush").resolve_scale(**IND),
    spacing=406.4,bounds="flush").resolve_scale(**IND)
chart = alt.vconcat(
    alt.vconcat(row1,row2,spacing=300,bounds="flush").resolve_scale(**IND),
    row3,spacing=671.7,bounds="flush"
).resolve_scale(**IND).properties(padding={"left":0,"right":-2,"top":0,"bottom":-1}).configure_view(strokeWidth=0)

chart.save("out.html", embed_options={"renderer":"svg","actions":False})
